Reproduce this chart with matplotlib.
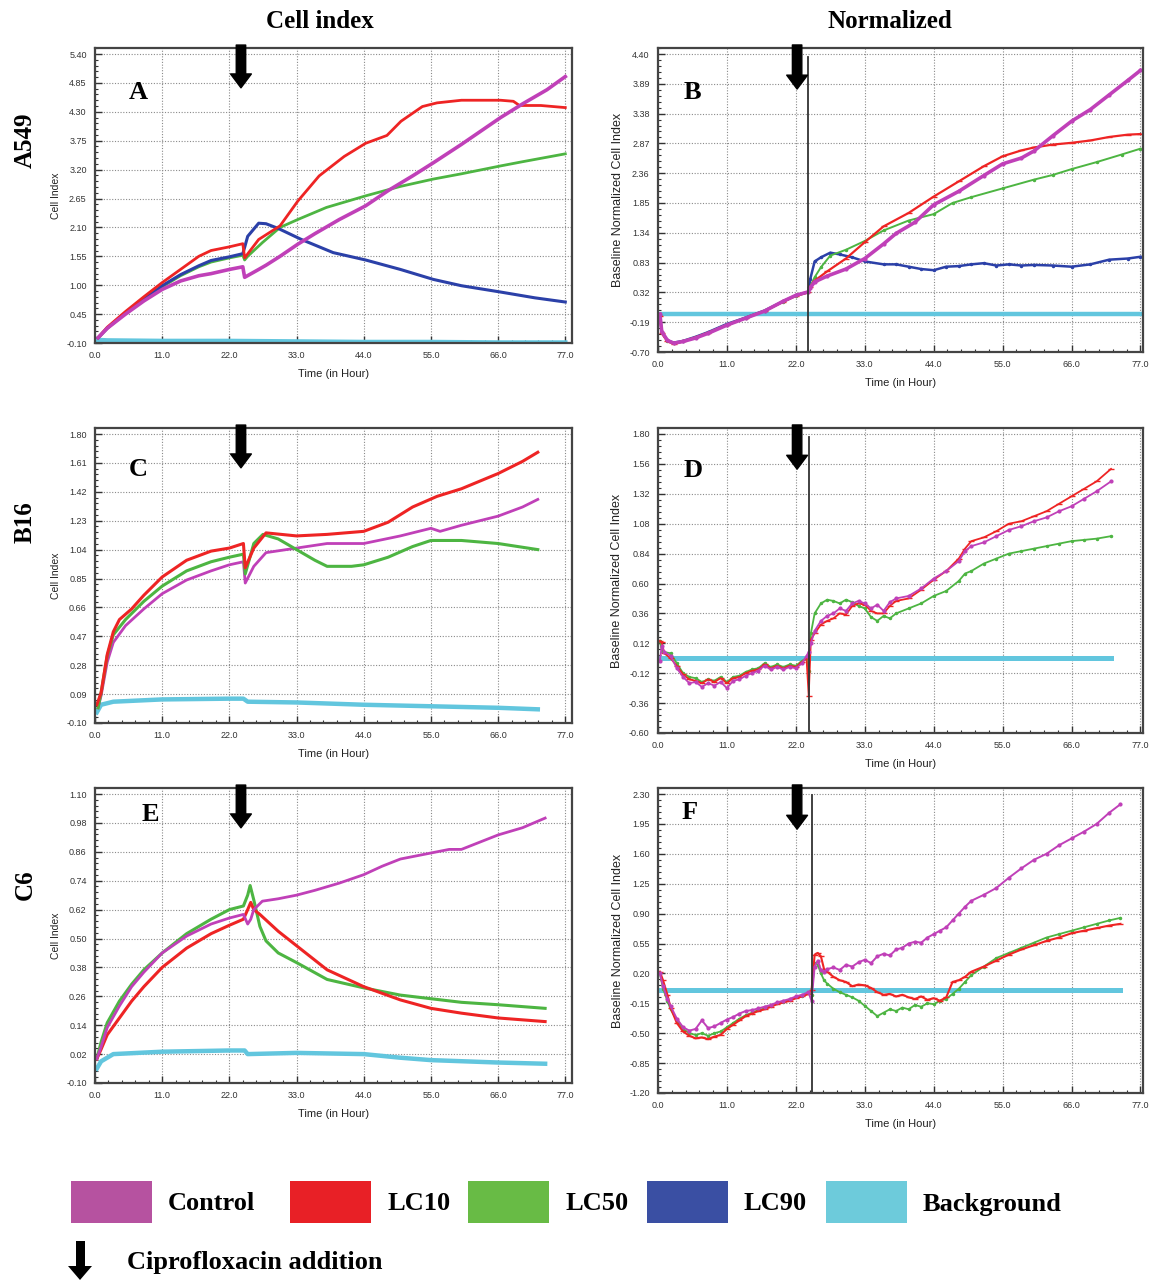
import matplotlib
matplotlib.use('Agg')
import matplotlib.pyplot as plt
from matplotlib.ticker import AutoMinorLocator, FixedLocator
from matplotlib.patches import Rectangle

# ---------------- data ----------------
x_ticks = [0, 11, 22, 33, 44, 55, 66, 77]

# Panel A  (A549, cell index)
A_yticks = [-0.10, 0.45, 1.00, 1.55, 2.10, 2.65, 3.20, 3.75, 4.30, 4.85, 5.40]
A_ctrl_t = [0.5, 2, 5, 8, 11, 14, 17, 19, 22, 24.2, 24.5, 26.8, 28, 30.3, 33.2, 36, 40, 44.3, 48, 52, 55.4, 60, 66.4, 70, 74, 77]
A_ctrl = [0.0, 0.18, 0.45, 0.70, 0.92, 1.08, 1.18, 1.22, 1.30, 1.35, 1.15, 1.30, 1.38, 1.55, 1.78, 1.98, 2.25, 2.51, 2.80, 3.08, 3.33, 3.68, 4.19, 4.45, 4.72, 4.97]
A_lc10_t = [0.5, 2, 5, 8, 11, 14, 17, 19, 22, 24.2, 24.5, 26.8, 30.3, 33.2, 36.7, 40.8, 44.3, 47.8, 50.1, 53.6, 56, 60, 66.4, 68.5, 69.5, 73, 77]
A_lc10 = [0.0, 0.20, 0.50, 0.78, 1.05, 1.30, 1.55, 1.66, 1.73, 1.79, 1.52, 1.87, 2.13, 2.60, 3.08, 3.45, 3.70, 3.85, 4.12, 4.40, 4.47, 4.52, 4.52, 4.50, 4.42, 4.42, 4.38]
A_lc50_t = [0.5, 2, 5, 8, 11, 14, 17, 19, 22, 24.2, 24.5, 25, 27.4, 30.3, 33.2, 37.9, 44.3, 50, 55.4, 60, 66.4, 70, 77]
A_lc50 = [0.0, 0.18, 0.47, 0.72, 0.97, 1.18, 1.35, 1.44, 1.52, 1.57, 1.48, 1.55, 1.81, 2.10, 2.25, 2.48, 2.70, 2.88, 3.02, 3.12, 3.27, 3.35, 3.50]
A_lc90_t = [0.5, 2, 5, 8, 11, 14, 17, 19, 22, 24.2, 24.5, 25, 26.8, 28, 30, 33.8, 39, 44.3, 50, 55.4, 60, 66.4, 72, 77]
A_lc90 = [0.0, 0.18, 0.48, 0.74, 0.99, 1.20, 1.37, 1.47, 1.54, 1.60, 1.72, 1.93, 2.18, 2.17, 2.08, 1.87, 1.62, 1.48, 1.30, 1.11, 0.99, 0.87, 0.76, 0.68]
A_bg_t = [0.3, 2, 11, 22, 33, 44, 55, 66, 77]
A_bg = [-0.04, -0.05, -0.06, -0.06, -0.07, -0.08, -0.08, -0.09, -0.09]

# Panel B  (A549, normalized)
B_yticks = [-0.70, -0.19, 0.32, 0.83, 1.34, 1.85, 2.36, 2.87, 3.38, 3.89, 4.40]
B_early_t = [0.3, 0.6, 1.5, 2.5, 4, 6, 8, 11, 14, 17, 20, 22, 24]
B_ctrl_t = B_early_t + [24.3, 25, 27, 30, 33, 36, 38, 41, 44, 48, 52, 55, 58, 60, 63, 66, 69, 72, 75, 77]
B_ctrl = [-0.05, -0.35, -0.50, -0.55, -0.52, -0.46, -0.38, -0.24, -0.12, 0.0, 0.17, 0.27, 0.33,
          0.40, 0.50, 0.60, 0.72, 0.90, 1.15, 1.33, 1.52, 1.82, 2.05, 2.32, 2.52, 2.62, 2.74, 3.00, 3.25, 3.45, 3.70, 3.95, 4.12]
B_lc10_t = B_early_t + [24.3, 25, 27, 30, 33, 36, 40, 44, 48, 52, 55, 58, 60, 63, 66, 69, 72, 75, 77]
B_lc10 = [-0.08, -0.38, -0.52, -0.56, -0.52, -0.45, -0.37, -0.24, -0.12, 0.0, 0.16, 0.26, 0.32,
          0.42, 0.52, 0.68, 0.90, 1.18, 1.45, 1.68, 1.96, 2.22, 2.48, 2.65, 2.75, 2.80, 2.85, 2.88, 2.92, 2.98, 3.02, 3.03]
B_lc50_t = B_early_t + [24.3, 25, 26, 27.5, 30, 33, 36, 40, 44, 47, 50, 55, 60, 63, 66, 70, 74, 77]
B_lc50 = [-0.07, -0.37, -0.51, -0.55, -0.51, -0.45, -0.37, -0.23, -0.11, 0.01, 0.16, 0.26, 0.32,
          0.42, 0.58, 0.75, 0.95, 1.05, 1.20, 1.38, 1.55, 1.66, 1.85, 1.95, 2.10, 2.25, 2.33, 2.43, 2.55, 2.68, 2.78]
B_lc90_t = B_early_t + [24.3, 25, 26, 27.5, 29, 31, 33, 36, 38, 40, 42, 44, 46, 48, 50, 52, 54, 56, 58, 60, 63, 66, 69, 72, 75, 77]
B_lc90 = [-0.07, -0.36, -0.50, -0.54, -0.51, -0.44, -0.36, -0.22, -0.11, 0.01, 0.17, 0.27, 0.33,
          0.55, 0.85, 0.92, 1.00, 0.97, 0.92, 0.85, 0.80, 0.80, 0.76, 0.72, 0.70, 0.76, 0.77, 0.80, 0.82, 0.78, 0.80, 0.78, 0.79, 0.78, 0.76, 0.80, 0.88, 0.90, 0.93]
B_bg_t = [0.3, 11, 22, 33, 44, 55, 66, 77]
B_bg = [-0.05, -0.05, -0.05, -0.05, -0.05, -0.05, -0.05, -0.05]

# Panel C  (B16, cell index)
C_yticks = [-0.10, 0.09, 0.28, 0.47, 0.66, 0.85, 1.04, 1.23, 1.42, 1.61, 1.80]
C_ctrl_t = [0.5, 1, 2, 3, 5, 8, 11, 15, 19, 22, 24.3, 24.6, 26, 28, 33, 38, 44, 50, 55, 56.5, 60, 66, 70, 72.5]
C_ctrl = [0.0, 0.08, 0.30, 0.43, 0.54, 0.65, 0.75, 0.84, 0.90, 0.94, 0.96, 0.82, 0.93, 1.02, 1.05, 1.08, 1.08, 1.13, 1.18, 1.16, 1.20, 1.26, 1.32, 1.37]
C_lc10_t = [0.3, 1, 2, 3, 4, 6, 8, 11, 15, 19, 22, 24.3, 24.6, 26, 28, 33, 38, 44, 48, 52, 56, 60, 66, 70, 72.5]
C_lc10 = [0.02, 0.10, 0.35, 0.50, 0.58, 0.65, 0.74, 0.86, 0.97, 1.03, 1.05, 1.08, 0.92, 1.05, 1.15, 1.13, 1.14, 1.16, 1.22, 1.32, 1.39, 1.44, 1.54, 1.62, 1.68]
C_lc50_t = [0.5, 1, 2, 3, 5, 8, 11, 15, 19, 22, 24.3, 24.6, 26, 27.5, 30, 33, 36, 38, 42, 44, 48, 52, 55, 60, 66, 72.5]
C_lc50 = [0.0, 0.10, 0.34, 0.48, 0.58, 0.70, 0.80, 0.90, 0.96, 0.99, 1.01, 0.88, 1.08, 1.14, 1.11, 1.04, 0.97, 0.93, 0.93, 0.94, 0.99, 1.06, 1.10, 1.10, 1.08, 1.04]
C_bg_t = [0.3, 1, 3, 11, 22, 24.3, 25, 33, 44, 55, 66, 72.5]
C_bg = [-0.03, 0.02, 0.04, 0.055, 0.06, 0.06, 0.04, 0.035, 0.02, 0.01, 0.0, -0.01]

# Panel D  (B16, normalized)
D_yticks = [-0.60, -0.36, -0.12, 0.12, 0.36, 0.60, 0.84, 1.08, 1.32, 1.56, 1.80]
D_t = [0.3, 0.6, 1, 2, 3, 4, 5, 6, 7, 8, 9, 10, 11, 12, 13, 14, 15, 16, 17, 18, 19, 20, 21, 22, 23, 23.7,
       24.05, 24.4, 25, 26, 27, 28, 29, 30, 31, 32, 33, 34, 35, 36, 37, 38, 40, 42, 44, 46, 48, 49, 50,
       52, 54, 56, 58, 60, 62, 64, 66, 68, 70, 72.3]
D_ctrl = [-0.02, 0.10, 0.05, 0.02, -0.08, -0.15, -0.20, -0.19, -0.23, -0.20, -0.22, -0.19, -0.24, -0.18, -0.17, -0.14,
          -0.12, -0.10, -0.06, -0.09, -0.07, -0.09, -0.07, -0.08, -0.04, 0.02, 0.05, 0.12, 0.22, 0.30, 0.34, 0.36,
          0.40, 0.38, 0.44, 0.46, 0.44, 0.40, 0.43, 0.38, 0.45, 0.48, 0.50, 0.56, 0.64, 0.70, 0.78, 0.86, 0.90,
          0.93, 0.98, 1.03, 1.06, 1.10, 1.13, 1.18, 1.22, 1.28, 1.34, 1.42]
D_lc10 = [0.14, 0.13, 0.04, 0.0, -0.06, -0.13, -0.17, -0.18, -0.20, -0.17, -0.19, -0.16, -0.20, -0.16, -0.15, -0.12,
          -0.10, -0.09, -0.05, -0.08, -0.06, -0.08, -0.06, -0.07, -0.03, 0.0, -0.30, 0.15, 0.20, 0.27, 0.30, 0.32,
          0.36, 0.35, 0.42, 0.44, 0.43, 0.38, 0.36, 0.36, 0.42, 0.46, 0.48, 0.55, 0.63, 0.70, 0.80, 0.88, 0.94,
          0.97, 1.02, 1.08, 1.10, 1.14, 1.18, 1.24, 1.30, 1.36, 1.42, 1.52]
D_lc50 = [0.14, 0.06, 0.05, 0.04, -0.04, -0.12, -0.15, -0.16, -0.19, -0.17, -0.18, -0.15, -0.19, -0.15, -0.14, -0.11,
          -0.09, -0.08, -0.04, -0.07, -0.05, -0.07, -0.05, -0.06, -0.02, 0.0, -0.10, 0.20, 0.36, 0.44, 0.47, 0.46,
          0.44, 0.47, 0.45, 0.42, 0.40, 0.33, 0.30, 0.34, 0.32, 0.36, 0.40, 0.44, 0.50, 0.54, 0.62, 0.68, 0.70,
          0.76, 0.80, 0.84, 0.86, 0.88, 0.90, 0.92, 0.94, 0.95, 0.96, 0.98]
D_bg_t = [0.3, 11, 22, 33, 44, 55, 66, 72.3]
D_bg = [0.0, 0.0, 0.0, 0.0, 0.0, 0.0, 0.0, 0.0]

# Panel E  (C6, cell index)
E_yticks = [-0.10, 0.02, 0.14, 0.26, 0.38, 0.50, 0.62, 0.74, 0.86, 0.98, 1.10]
E_ctrl_t = [0.3, 1, 2, 4, 6, 8, 11, 15, 19, 22, 24.3, 25, 25.5, 26, 27.4, 30, 33, 36, 40, 44, 47, 50, 55, 58, 60, 63, 66, 70, 73.7]
E_ctrl = [0.0, 0.05, 0.13, 0.22, 0.30, 0.36, 0.44, 0.51, 0.56, 0.585, 0.60, 0.56, 0.58, 0.62, 0.655, 0.665, 0.68, 0.70, 0.73, 0.765, 0.80, 0.83, 0.855, 0.87, 0.87, 0.90, 0.93, 0.96, 1.00]
E_lc10_t = [0.3, 1, 2, 4, 6, 8, 11, 15, 19, 22, 24.3, 25, 25.5, 26, 27, 30, 33, 38, 44, 50, 55, 60, 66, 73.7]
E_lc10 = [0.0, 0.04, 0.10, 0.17, 0.24, 0.30, 0.38, 0.46, 0.52, 0.555, 0.58, 0.62, 0.65, 0.62, 0.60, 0.53, 0.47, 0.37, 0.30, 0.245, 0.21, 0.19, 0.17, 0.155]
E_lc50_t = [0.3, 1, 2, 4, 6, 8, 11, 15, 19, 22, 24.3, 25, 25.4, 26, 27, 28, 30, 33, 38, 44, 50, 55, 60, 66, 73.7]
E_lc50 = [0.0, 0.07, 0.15, 0.24, 0.31, 0.37, 0.44, 0.52, 0.58, 0.62, 0.635, 0.68, 0.72, 0.66, 0.55, 0.49, 0.44, 0.40, 0.33, 0.295, 0.265, 0.25, 0.235, 0.225, 0.21]
E_bg_t = [0.3, 1, 3, 11, 22, 24.5, 25, 33, 44, 50, 55, 66, 73.7]
E_bg = [-0.04, -0.01, 0.02, 0.03, 0.035, 0.035, 0.02, 0.025, 0.02, 0.005, -0.005, -0.015, -0.02]

# Panel F  (C6, normalized)
F_yticks = [-1.20, -0.85, -0.50, -0.15, 0.20, 0.55, 0.90, 1.25, 1.60, 1.95, 2.30]
F_t = [0.3, 0.8, 1.5, 2, 3, 4, 5, 6, 7, 8, 9, 10, 11, 12, 13, 14, 15, 16, 17, 18, 19, 20, 21, 22, 23, 24,
       24.5, 25, 25.5, 26, 26.5, 27, 28, 29, 30, 31, 32, 33, 34, 35, 36, 37, 38, 39, 40, 41, 42, 43, 44, 45,
       46, 47, 48, 49, 50, 52, 54, 56, 58, 60, 62, 64, 66, 68, 70, 72, 73.8]
F_ctrl = [0.20, 0.05, -0.10, -0.18, -0.33, -0.43, -0.47, -0.45, -0.35, -0.44, -0.42, -0.38, -0.34, -0.31, -0.27, -0.24,
          -0.23, -0.21, -0.19, -0.17, -0.14, -0.12, -0.10, -0.07, -0.05, -0.02, -0.12, 0.28, 0.35, 0.24, 0.22, 0.25,
          0.27, 0.24, 0.30, 0.28, 0.33, 0.36, 0.32, 0.40, 0.43, 0.41, 0.48, 0.50, 0.55, 0.57, 0.56, 0.62, 0.66, 0.70,
          0.74, 0.82, 0.90, 0.98, 1.05, 1.12, 1.20, 1.32, 1.43, 1.53, 1.60, 1.70, 1.78, 1.86, 1.95, 2.08, 2.18]
F_lc10 = [0.22, 0.12, -0.05, -0.20, -0.38, -0.48, -0.53, -0.56, -0.55, -0.57, -0.54, -0.52, -0.45, -0.40, -0.35, -0.30,
          -0.27, -0.24, -0.22, -0.19, -0.16, -0.14, -0.12, -0.09, -0.07, -0.04, 0.0, 0.42, 0.44, 0.40, 0.25, 0.22,
          0.16, 0.12, 0.10, 0.05, 0.07, 0.06, 0.03, -0.02, -0.05, -0.04, -0.07, -0.05, -0.08, -0.10, -0.07, -0.11, -0.09, -0.12,
          -0.08, 0.10, 0.12, 0.16, 0.22, 0.28, 0.35, 0.42, 0.48, 0.53, 0.58, 0.62, 0.67, 0.70, 0.73, 0.76, 0.78]
F_lc50 = [0.20, 0.02, -0.12, -0.22, -0.35, -0.45, -0.50, -0.52, -0.50, -0.53, -0.50, -0.48, -0.43, -0.38, -0.33, -0.29,
          -0.26, -0.23, -0.21, -0.18, -0.15, -0.13, -0.11, -0.08, -0.06, -0.03, -0.05, 0.32, 0.30, 0.20, 0.12, 0.08,
          0.02, -0.02, -0.05, -0.08, -0.12, -0.18, -0.24, -0.30, -0.26, -0.22, -0.24, -0.20, -0.22, -0.17, -0.19, -0.15, -0.16, -0.12,
          -0.10, -0.04, 0.02, 0.10, 0.18, 0.28, 0.38, 0.44, 0.50, 0.56, 0.62, 0.66, 0.70, 0.74, 0.78, 0.82, 0.85]
F_bg_t = [0.3, 11, 22, 33, 44, 55, 66, 73.8]
F_bg = [0.0, 0.0, 0.0, 0.0, 0.0, 0.0, 0.0, 0.0]

legend_labels = ['Control', 'LC10', 'LC50', 'LC90', 'Background']

# ---------------- style ----------------
COL = {'ctrl': '#c040b8', 'lc10': '#ee2424', 'lc50': '#4db542', 'lc90': '#2b40a8', 'bg': '#62c6de'}
LEG_COL = ['#b652a0', '#e82026', '#68bb45', '#3a4fa3', '#6dcbdb']
SERIF = 'Liberation Serif'
SANS = 'Liberation Sans'

W, H = 1150, 1282
fig = plt.figure(figsize=(W / 100, H / 100), dpi=100)


def rect(l, r, t, b):
    return [l / W, 1 - b / H, (r - l) / W, (b - t) / H]


def setup(ax, yticks, xmax, ylabel, top_px, total_px):
    lo, hi = yticks[0], yticks[-1]
    ax.set_xlim(0, xmax)
    ax.set_ylim(lo, hi + (hi - lo) * top_px / (total_px - top_px))
    ax.xaxis.set_major_locator(FixedLocator(x_ticks))
    ax.yaxis.set_major_locator(FixedLocator(yticks))
    ax.set_xticklabels(['%.1f' % v for v in x_ticks])
    ax.set_yticklabels(['%.2f' % v for v in yticks])
    ax.xaxis.set_minor_locator(AutoMinorLocator(5))
    ax.yaxis.set_minor_locator(AutoMinorLocator(5))
    ax.tick_params(which='major', direction='in', length=5, width=1.0, color='#333',
                   labelsize=6.5, labelcolor='#333', pad=6)
    ax.tick_params(which='minor', direction='in', length=2.5, width=0.8, color='#333')
    for lab in ax.get_xticklabels() + ax.get_yticklabels():
        lab.set_fontfamily(SANS)
    ax.grid(True, which='major', color='#8a8a8a', linestyle=(0, (1, 1.5)), linewidth=0.8)
    for s in ax.spines.values():
        s.set_color('#444')
        s.set_linewidth(1.6)
    ax.set_xlabel('Time (in Hour)', fontsize=8, family=SANS, color='#222', labelpad=6)
    ax.set_ylabel(ylabel, fontsize=7.5 if ylabel == 'Cell Index' else 9, family=SANS, color='#222', labelpad=4)


def arrow(ax, t, y0=1.01, y1=0.865):
    ax.annotate('', xy=(t, y1), xytext=(t, y0), xycoords=('data', 'axes fraction'),
                textcoords=('data', 'axes fraction'), annotation_clip=False,
                arrowprops=dict(arrowstyle='simple,head_width=0.75,head_length=0.5,tail_width=0.34',
                                color='black', mutation_scale=20, shrinkA=0, shrinkB=0))


def letter(ax, s, x, y):
    ax.text(x, y, s, transform=ax.transAxes, fontsize=19, fontweight='bold', family=SERIF,
            ha='center', va='center')


# ---------- Panel A ----------
axA = fig.add_axes(rect(95, 572, 48, 343))
setup(axA, A_yticks, 78.1, 'Cell Index', 6, 295)
axA.plot(A_bg_t, A_bg, color=COL['bg'], lw=3.2)
axA.plot(A_lc50_t, A_lc50, color=COL['lc50'], lw=2.0)
axA.plot(A_lc90_t, A_lc90, color=COL['lc90'], lw=2.2)
axA.plot(A_lc10_t, A_lc10, color=COL['lc10'], lw=2.0)
axA.plot(A_ctrl_t, A_ctrl, color=COL['ctrl'], lw=2.6)
arrow(axA, 23.9)
letter(axA, 'A', 0.09, 0.85)

# ---------- Panel B ----------
axB = fig.add_axes(rect(658, 1143, 48, 352))
setup(axB, B_yticks, 77.4, 'Baseline Normalized Cell Index', 6, 304)
axB.plot(B_bg_t, B_bg, color=COL['bg'], lw=3.2)
axB.plot(B_lc90_t, B_lc90, color=COL['lc90'], lw=1.8, marker='.', ms=3)
axB.plot(B_lc50_t, B_lc50, color=COL['lc50'], lw=1.4, marker='.', ms=3)
axB.plot(B_lc10_t, B_lc10, color=COL['lc10'], lw=1.6, marker='_', ms=4)
axB.plot(B_ctrl_t, B_ctrl, color=COL['ctrl'], lw=2.6, marker='.', ms=4)
axB.axvline(24.0, ymin=0, ymax=0.97, color='#333', lw=1.3)
arrow(axB, 22.2)
letter(axB, 'B', 0.072, 0.855)

# ---------- Panel C ----------
axC = fig.add_axes(rect(95, 572, 428, 723))
setup(axC, C_yticks, 78.1, 'Cell Index', 6, 295)
axC.plot(C_bg_t, C_bg, color=COL['bg'], lw=3.2)
axC.plot(C_ctrl_t, C_ctrl, color=COL['ctrl'], lw=2.0)
axC.plot(C_lc50_t, C_lc50, color=COL['lc50'], lw=2.2)
axC.plot(C_lc10_t, C_lc10, color=COL['lc10'], lw=2.2)
arrow(axC, 23.9)
letter(axC, 'C', 0.09, 0.86)

# ---------- Panel D ----------
axD = fig.add_axes(rect(658, 1143, 428, 733))
setup(axD, D_yticks, 77.4, 'Baseline Normalized Cell Index', 6, 305)
axD.plot(D_bg_t, D_bg, color=COL['bg'], lw=3.6)
axD.plot(D_t, D_lc50, color=COL['lc50'], lw=1.3, marker='.', ms=3)
axD.plot(D_t, D_lc10, color=COL['lc10'], lw=1.3, marker='_', ms=5)
axD.plot(D_t, D_ctrl, color=COL['ctrl'], lw=1.3, marker='.', ms=4)
axD.axvline(24.05, ymin=0, ymax=0.97, color='#333', lw=1.3)
arrow(axD, 22.2)
letter(axD, 'D', 0.072, 0.86)

# ---------- Panel E ----------
axE = fig.add_axes(rect(95, 572, 788, 1083))
setup(axE, E_yticks, 78.1, 'Cell Index', 6, 295)
axE.plot(E_bg_t, E_bg, color=COL['bg'], lw=3.2)
axE.plot(E_lc50_t, E_lc50, color=COL['lc50'], lw=2.2)
axE.plot(E_lc10_t, E_lc10, color=COL['lc10'], lw=2.2)
axE.plot(E_ctrl_t, E_ctrl, color=COL['ctrl'], lw=2.0)
arrow(axE, 23.9)
letter(axE, 'E', 0.115, 0.91)

# ---------- Panel F ----------
axF = fig.add_axes(rect(658, 1143, 788, 1093))
setup(axF, F_yticks, 77.4, 'Baseline Normalized Cell Index', 6, 305)
axF.plot(F_bg_t, F_bg, color=COL['bg'], lw=3.6)
axF.plot(F_t, F_lc50, color=COL['lc50'], lw=1.3, marker='.', ms=3)
axF.plot(F_t, F_lc10, color=COL['lc10'], lw=1.5, marker='_', ms=5)
axF.plot(F_t, F_ctrl, color=COL['ctrl'], lw=1.4, marker='.', ms=4)
axF.axvline(24.6, ymin=0, ymax=0.977, color='#333', lw=1.3)
arrow(axF, 22.2)
letter(axF, 'F', 0.065, 0.92)

# ---------- titles and row labels ----------
fig.text(320 / W, 1 - 22 / H, 'Cell index', fontsize=18, fontweight='bold', family=SERIF, ha='center', va='center')
fig.text(890 / W, 1 - 22 / H, 'Normalized', fontsize=18, fontweight='bold', family=SERIF, ha='center', va='center')
for name, yc in [('A549', 140), ('B16', 522), ('C6', 885)]:
    fig.text(25 / W, 1 - yc / H, name, fontsize=18, fontweight='bold', family=SERIF,
             rotation=90, ha='center', va='center')

# ---------- legend ----------
patch_x = [71, 290, 468, 647, 826]
for px, col, lab in zip(patch_x, LEG_COL, legend_labels):
    fig.patches.append(Rectangle((px / W, 1 - 1223 / H), 81 / W, 42 / H, transform=fig.transFigure,
                                 facecolor=col, edgecolor='none'))
    fig.text((px + 97) / W, 1 - 1204 / H, lab, fontsize=19, fontweight='bold', family=SERIF,
             ha='left', va='center')

fig.patches.append(Rectangle((75.5 / W, 1 - 1268 / H), 9 / W, 27 / H, transform=fig.transFigure,
                             facecolor='black', edgecolor='none'))
fig.patches.append(plt.Polygon([[68 / W, 1 - 1266 / H], [92 / W, 1 - 1266 / H], [80 / W, 1 - 1280 / H]],
                               closed=True, transform=fig.transFigure, facecolor='black', edgecolor='none'))
fig.text(127 / W, 1 - 1263 / H, 'Ciprofloxacin addition', fontsize=19, fontweight='bold', family=SERIF,
         ha='left', va='center')

fig.savefig('out.png', dpi=100, facecolor='white')
